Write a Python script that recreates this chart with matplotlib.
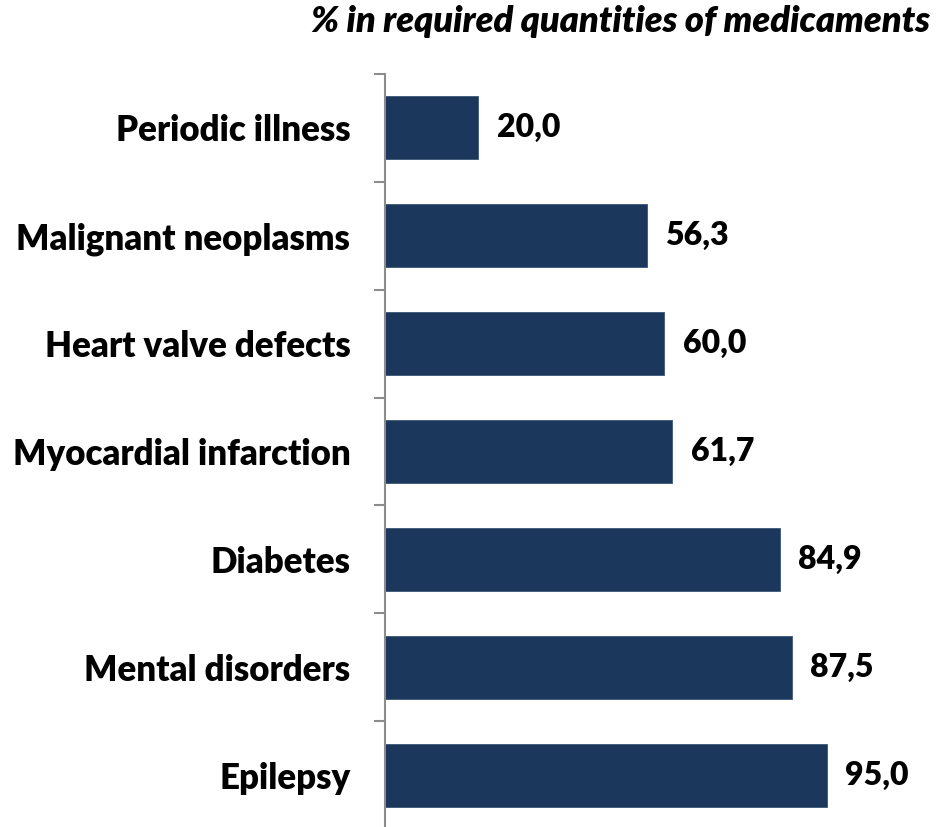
import matplotlib
matplotlib.use("Agg")
import matplotlib.pyplot as plt
import numpy as np

categories = ["Periodic illness", "Malignant neoplasms", "Heart valve defects",
              "Myocardial infarction", "Diabetes", "Mental disorders", "Epilepsy"]
values = [20.0, 56.3, 60.0, 61.7, 84.9, 87.5, 95.0]
title = "% in required quantities of medicaments"

W, H = 938, 827
fig = plt.figure(figsize=(W / 100, H / 100), dpi=100)
ax = fig.add_axes([385 / W, -2 / H, 465 / W, (H - 74 + 2) / H])

bar_color = "#1b375c"
pos = np.arange(len(categories))
ax.barh(pos, values, height=0.585, color=bar_color, edgecolor="#3a5577", linewidth=0.6)
ax.set_xlim(0, 100)
ax.set_ylim(len(categories) - 0.5, -0.5)

font = ["Lato", "DejaVu Sans"]
for p, v in zip(pos, values):
    ax.text(v + 4.0, p, f"{v:.1f}".replace(".", ","), va="center", ha="left",
            fontsize=23, fontweight="heavy", family=font, clip_on=False)

ax.set_yticks(pos)
ax.set_yticklabels(categories, fontsize=25, fontweight="heavy", family=font)
ax.tick_params(axis="y", which="major", length=0, pad=25)
ax.set_yticks(np.arange(-0.5, len(categories), 1.0), minor=True)
ax.tick_params(axis="y", which="minor", length=8, width=1.5, color="#8c8c8c")
ax.set_xticks([])
for s in ["top", "right", "bottom"]:
    ax.spines[s].set_visible(False)
ax.spines["left"].set_color("#8c8c8c")
ax.spines["left"].set_linewidth(1.5)

fig.text(930 / W, 1 - 22 / H, title, ha="right", va="center", fontsize=26,
         fontweight="heavy", fontstyle="italic", family=font)

fig.savefig("out.png", dpi=100)
